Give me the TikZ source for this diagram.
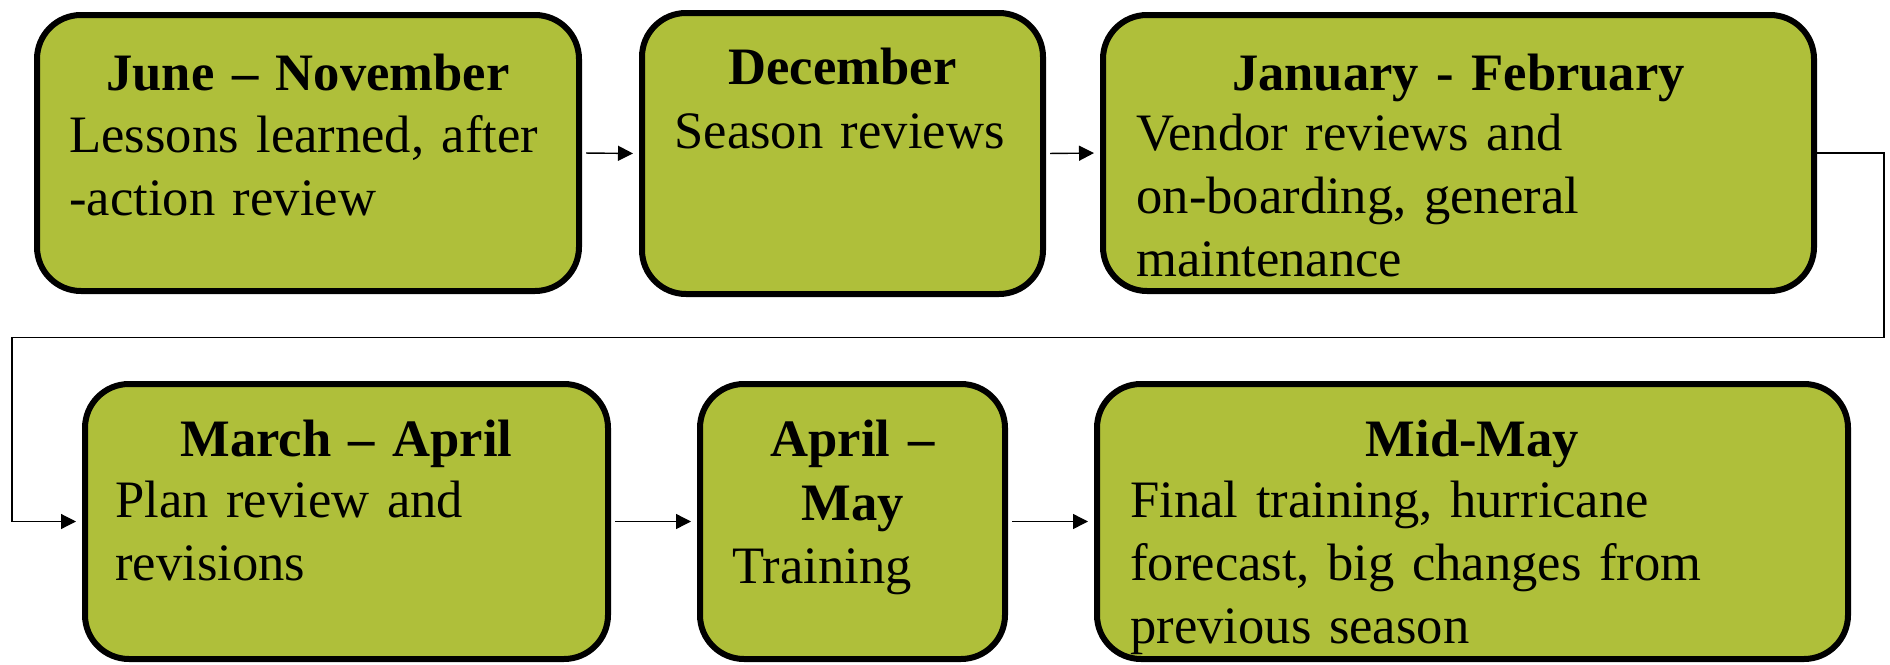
\documentclass[tikz,border=0pt]{standalone}
\usepackage{fontspec}
\setmainfont{Liberation Serif}
\usepackage{xcolor}
\definecolor{stageolive}{HTML}{AFBF3A}
\usetikzlibrary{arrows.meta, positioning}

\tikzset{
  stage/.style={draw=black, line width=3pt, fill=stageolive, rounded corners=22pt, inner sep=0pt},
  stagetitle/.style={anchor=base, text width=380pt, align=center, inner sep=0pt,
    font=\fontsize{26.3pt}{32pt}\selectfont\bfseries},
  stagetext/.style={anchor=base west, text width=380pt, align=left, inner sep=0pt,
    font=\fontsize{26.3pt}{31.5pt}\selectfont},
  flow/.style={-{Triangle[length=7.5pt,width=7.5pt]}, line width=0.7pt, shorten <=2pt, shorten >=3pt},
}

\begin{document}
\begin{tikzpicture}[x=0.5pt, y=-0.5pt]
    \useasboundingbox (0,0) rectangle (1890,664);
    % first row
    \node[stage, minimum width=271pt, minimum height=138pt] (jun) at (308,153) {};
    \node[stagetitle] (junT) at ([yshift=-39pt]jun.north) {June – November};
    \node[stagetext] (junX) at ([xshift=17.5pt, yshift=-70pt]jun.north west) {Lessons learned, after\\-action review};

    \node[stage, minimum width=200.5pt, minimum height=140.5pt] (dec) at (842.5,153.5) {};
    \node[stagetitle] (decT) at ([yshift=-37pt]dec.north) {December};
    \node[stagetext] (decX) at ([xshift=17.5pt, yshift=-69pt]dec.north west) {Season reviews};

    \node[stage, minimum width=355.5pt, minimum height=138pt] (jan) at (1458.5,153) {};
    \node[stagetitle] (janT) at ([yshift=-39pt]jan.north) {January - February};
    \node[stagetext] (janX) at ([xshift=18pt, yshift=-69pt]jan.north west) {Vendor reviews and\\on-boarding, general\\maintenance};

    % second row
    \node[stage, minimum width=261.5pt, minimum height=137.5pt] (mar) at (346.5,521.5) {};
    \node[stagetitle] (marT) at ([yshift=-37.5pt]mar.north) {March – April};
    \node[stagetext] (marX) at ([xshift=16.5pt, yshift=-68pt]mar.north west) {Plan review and\\revisions};

    \node[stage, minimum width=152.5pt, minimum height=137.5pt] (apr) at (852.5,521.5) {};
    \node[stagetitle] (aprT) at ([yshift=-37.5pt]apr.north) {April –\\May};
    \node[stagetext] (aprX) at ([xshift=17.5pt, yshift=-101pt]apr.north west) {Training};

    \node[stage, minimum width=375.5pt, minimum height=137.5pt] (may) at (1472.5,521.5) {};
    \node[stagetitle] (mayT) at ([yshift=-37.5pt]may.north) {Mid-May};
    \node[stagetext] (mayX) at ([xshift=18pt, yshift=-68pt]may.north west) {Final training, hurricane\\forecast, big changes from\\previous season};

    % connectors
    \foreach \a/\b in {jun/dec, dec/jan, mar/apr, apr/may}
        \draw[flow] (\a.east) -- (\b.west);
    \coordinate (loopR) at (1884,337.5);
    \coordinate (loopL) at (12,337.5);
    \draw[flow, line width=0.6pt, shorten <=0pt] (jan.east) -| (loopR) -- (loopL) |- (mar.west);
\end{tikzpicture}
\end{document}
